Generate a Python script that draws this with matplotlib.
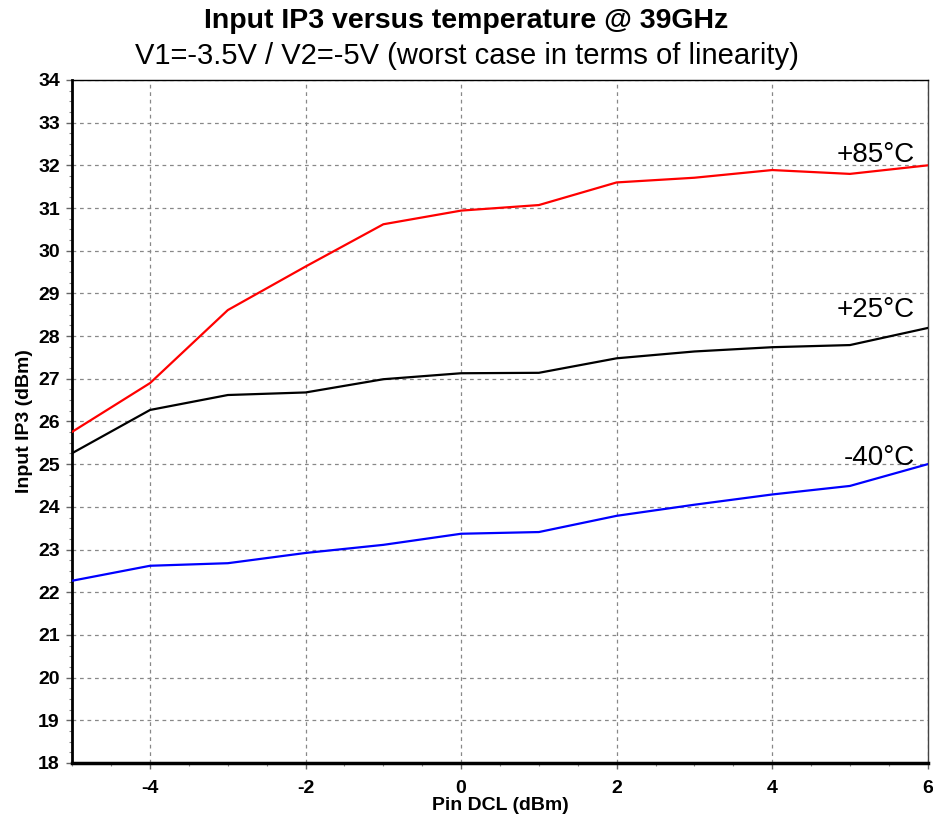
import matplotlib
matplotlib.use("Agg")
import matplotlib.pyplot as plt
from matplotlib.ticker import MultipleLocator

plt.rcParams['font.family'] = ['Liberation Sans', 'DejaVu Sans']
plt.rcParams['axes.unicode_minus'] = False

pin = [-5, -4, -3, -2, -1, 0, 1, 2, 3, 4, 5, 6]
iip3_p85 = [25.76, 26.9, 28.61, 29.63, 30.62, 30.94, 31.07, 31.6, 31.71, 31.89, 31.8, 32.0]
iip3_p25 = [25.26, 26.27, 26.62, 26.68, 26.99, 27.13, 27.14, 27.48, 27.64, 27.74, 27.79, 28.19]
iip3_m40 = [22.27, 22.62, 22.68, 22.92, 23.11, 23.37, 23.41, 23.79, 24.05, 24.29, 24.49, 25.0]
labels = ["+85°C", "+25°C", "-40°C"]
colors = ["#ff0000", "#000000", "#0000ff"]

fig = plt.figure(figsize=(9.33, 8.22), dpi=100)
ax = fig.add_axes([0.0775, 0.0718, 0.9168, 0.8309])

for y, c in zip([iip3_p85, iip3_p25, iip3_m40], colors):
    ax.plot(pin, y, color=c, lw=1.6, zorder=3)

ax.set_xlim(-5, 6)
ax.set_ylim(18, 34)
ax.xaxis.set_major_locator(MultipleLocator(2))
ax.xaxis.set_minor_locator(MultipleLocator(0.5))
ax.yaxis.set_major_locator(MultipleLocator(1))
ax.yaxis.set_minor_locator(MultipleLocator(0.25))

ax.grid(True, which='major', color='#888888', linestyle=(0, (3, 3)), lw=0.9)
ax.set_axisbelow(True)

for lbl in ax.get_xticklabels() + ax.get_yticklabels():
    lbl.set_fontweight('bold')
ax.tick_params(axis='both', which='major', labelsize=14, length=4, width=1,
               color='#666666', direction='out', pad=5)
ax.tick_params(axis='x', which='major', pad=8)
ax.tick_params(axis='both', which='minor', length=2.5, width=0.8,
               color='#888888', direction='out')

ax.spines['left'].set_linewidth(2)
ax.spines['bottom'].set_linewidth(2.5)
ax.spines['top'].set_linewidth(1)
ax.spines['right'].set_linewidth(1)
ax.spines['right'].set_color('#444444')

ax.set_xlabel("Pin DCL (dBm)", fontsize=14, fontweight='bold', labelpad=0)
ax.set_ylabel("Input IP3 (dBm)", fontsize=14, fontweight='bold', labelpad=4)

label_y = [32.25, 28.6, 25.15]
for t, yy in zip(labels, label_y):
    ax.text(5.84, yy, t, fontsize=20, ha='right', va='center', zorder=4)

fig.text(0.5, 0.974, "Input IP3 versus temperature @ 39GHz", ha='center', va='center',
         fontsize=20.5, fontweight='bold')
fig.text(0.5, 0.932, "V1=-3.5V / V2=-5V (worst case in terms of linearity)", ha='center', va='center',
         fontsize=21)

fig.savefig("out.png", dpi=100)
